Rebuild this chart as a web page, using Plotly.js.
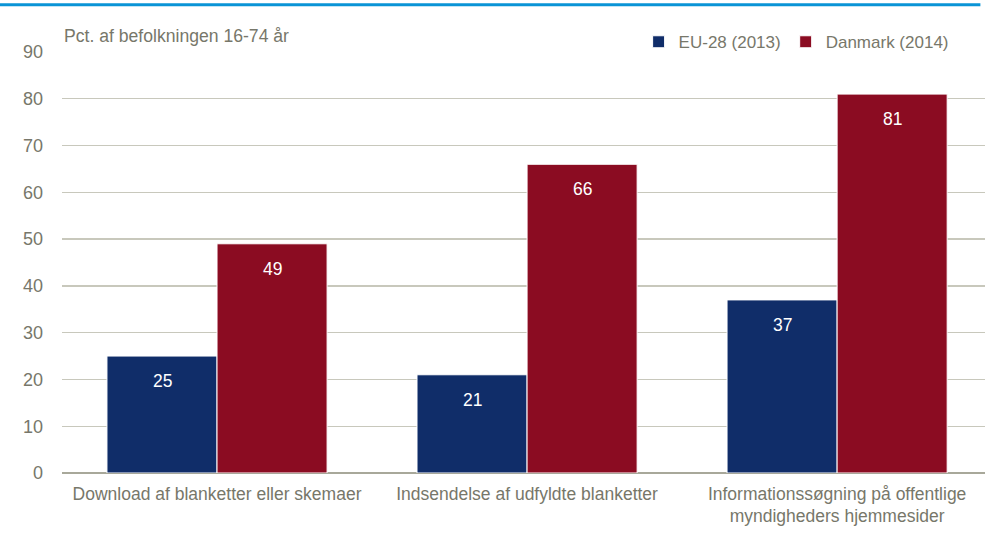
<!DOCTYPE html>
<html><head><meta charset="utf-8">
<script src="https://cdn.plot.ly/plotly-3.0.1.min.js"></script>
<style>html,body{margin:0;padding:0;background:#fff}#c{width:985px;height:540px}</style>
</head><body><div id="c"></div>
<script>
const categories = ["Download af blanketter eller skemaer", "Indsendelse af udfyldte blanketter", "Informationssøgning på offentlige<br>myndigheders hjemmesider"];
const seriesNames = ["EU-28 (2013)", "Danmark (2014)"];
const eu28 = [25, 21, 37];
const danmark = [49, 66, 81];
const yTicks = [0, 10, 20, 30, 40, 50, 60, 70, 80, 90];

const FONT = "'Liberation Sans', Arial, sans-serif";
const GREY = "#77776a";
const colors = ["#102d69", "#8b0c22"];

const mk = (name, y, color) => ({
  type: "bar", name: name, x: categories, y: y,
  marker: {color: color, line: {color: "#ffffff", width: 1}},
  hoverinfo: "none"
});

const data = [mk(seriesNames[0], eu28, colors[0]), mk(seriesNames[1], danmark, colors[1])];

const labelAnn = [];
[eu28, danmark].forEach((vals, s) => {
  vals.forEach((v, i) => {
    labelAnn.push({x: categories[i], y: v, xref: "x", yref: "y", text: String(v),
      showarrow: false, xshift: s === 0 ? -55 : 55, yshift: -25,
      font: {size: 17.5, color: "#ffffff", family: FONT}});
  });
});

const layout = {
  width: 985, height: 540,
  margin: {l: 62, r: 0, t: 52, b: 67},
  paper_bgcolor: "#ffffff", plot_bgcolor: "#ffffff",
  font: {family: FONT, color: GREY, size: 17.5},
  barmode: "group", bargap: 0.29, bargroupgap: 0,
  showlegend: true,
  legend: {orientation: "h", x: 0.966, xanchor: "right", y: 1.066, yanchor: "top",
           font: {size: 17, color: GREY, family: FONT}, traceorder: "normal",
           itemwidth: 30, bgcolor: "rgba(0,0,0,0)"},
  xaxis: {type: "category", range: [-0.5, 2.477], showgrid: false, zeroline: false,
          showline: false, ticks: "", ticklabelstandoff: 8,
          tickfont: {size: 17.5, color: GREY}, fixedrange: true},
  yaxis: {range: [0, 90], tickvals: yTicks, ticktext: yTicks.map(String),
          showgrid: true, gridcolor: "#c8c8bc", gridwidth: 1.3, zeroline: true,
          zerolinecolor: "#a8a89a", zerolinewidth: 1.5, showline: false, ticks: "",
          ticklabelstandoff: 18, tickfont: {size: 18, color: GREY}, fixedrange: true},
  annotations: [{text: "Pct. af befolkningen 16-74 år", xref: "paper", yref: "paper",
                 x: 0, y: 1.01, xanchor: "left", yanchor: "bottom", showarrow: false,
                 font: {size: 17.6, color: GREY, family: FONT}}].concat(labelAnn),
  shapes: [{type: "line", xref: "paper", yref: "paper", x0: -0.07, x1: 0.995,
            y0: 1.112, y1: 1.112, line: {color: "#0a94d6", width: 3}}]
};

Plotly.newPlot("c", data, layout, {displayModeBar: false, staticPlot: true});
</script></body></html>
